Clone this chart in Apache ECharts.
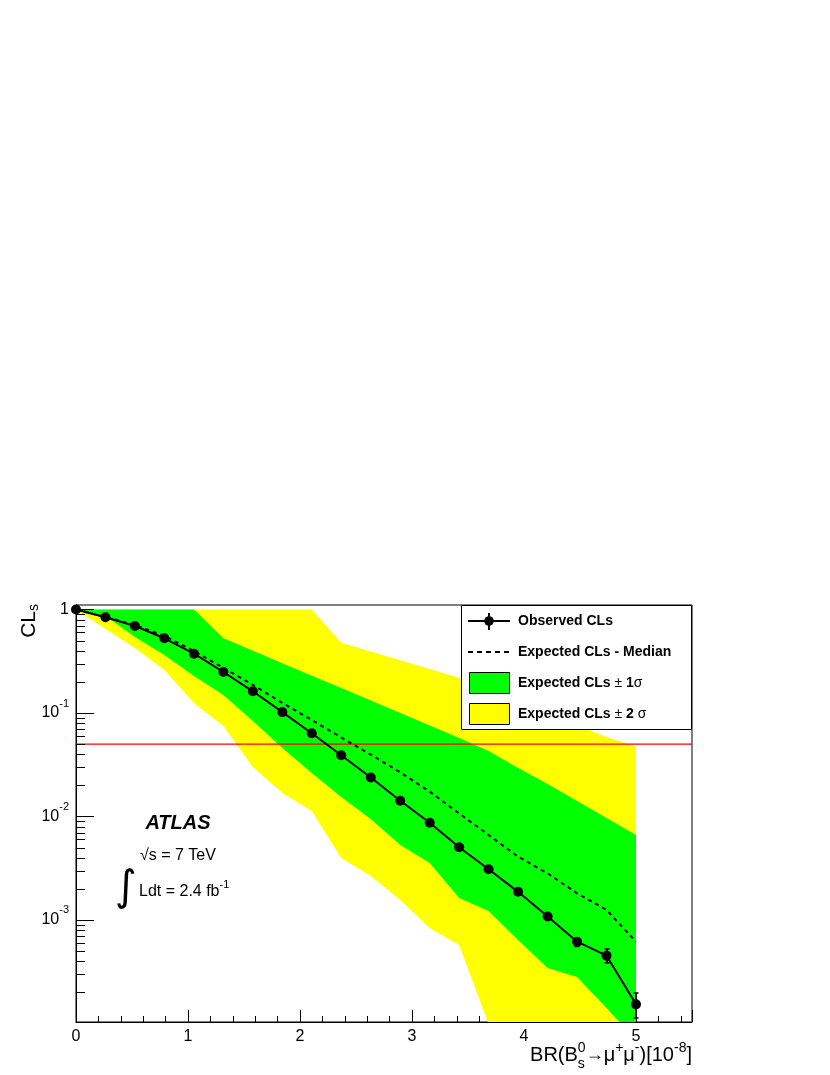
<!DOCTYPE html>
<html><head><meta charset="utf-8">
<script src="https://cdn.jsdelivr.net/npm/echarts@6/dist/echarts.min.js"></script>
<style>html,body{margin:0;padding:0;background:#fff}#c{width:830px;height:1075px}</style>
</head><body><div id="c"></div>
<script>
// ---- data ----
const xValues = [0, 0.263, 0.526, 0.789, 1.053, 1.316, 1.579, 1.842, 2.105, 2.368, 2.632, 2.895, 3.158, 3.421, 3.684, 3.947, 4.211, 4.474, 4.737, 5.0];
const observed = [1, 0.841, 0.693, 0.527, 0.374, 0.249, 0.162, 0.102, 0.0637, 0.039, 0.0238, 0.0142, 0.00871, 0.00504, 0.00309, 0.00187, 0.00108, 0.000617, 0.000452, 0.000153];
const obsErrDown = [0, 0, 0, 0, 0, 0, 0, 0, 0, 0, 0, 0, 0, 0, 0, 0, 0.00004, 0.000063, 0.000067, 0.00004];
const obsErrUp   = [0, 0, 0, 0, 0, 0, 0, 0, 0, 0, 0, 0, 0, 0, 0, 0, 0.00005, 0.000045, 0.000073, 0.000044];
const expectedMedian = [1, 0.846, 0.708, 0.555, 0.397, 0.272, 0.187, 0.125, 0.0856, 0.058, 0.0396, 0.0267, 0.0174, 0.0107, 0.00663, 0.00409, 0.00282, 0.00181, 0.00125, 0.000617];
const plus1Sigma  = [1, 1, 1, 1, 1, 0.527, 0.399, 0.303, 0.229, 0.174, 0.132, 0.0998, 0.0757, 0.0573, 0.043, 0.0294, 0.0206, 0.0141, 0.00968, 0.00663];
const minus1Sigma = [1, 0.865, 0.542, 0.363, 0.228, 0.149, 0.0837, 0.0459, 0.0263, 0.0154, 0.00946, 0.00531, 0.00356, 0.00163, 0.00122, 0.000641, 0.000344, 0.000281, 0.000141, 0.0000693];
const plus2Sigma  = [1, 1, 1, 1, 1, 1, 1, 1, 1, 0.478, 0.393, 0.323, 0.266, 0.218, 0.168, 0.129, 0.0991, 0.0762, 0.0586, 0.0472];
const minus2Sigma = [1, 0.648, 0.425, 0.26, 0.125, 0.0749, 0.0301, 0.0169, 0.0113, 0.00397, 0.00266, 0.00156, 0.000838, 0.000573, 0.0000989, 0.00001, 0.00001, 0.00001, 0.00001, 0.00001];
const clsLimit = 0.05;
const xTickLabels = ['0', '1', '2', '3', '4', '5'];
const yMajorTicks = [1, 0.1, 0.01, 0.001];
const yMinorMantissas = [2, 3, 4, 5, 6, 7, 8, 9];
const yMinorDecades = [0.0001, 0.001, 0.01, 0.1];

// ---- helpers ----
const FONT = '"Liberation Sans", Arial, Helvetica, sans-serif';
const mctx = document.createElement('canvas').getContext('2d');
function tw(t, f) { mctx.font = f; return mctx.measureText(t).width; }

const Y_MIN = 1.033e-4, Y_MAX = 1.105;
const yMinorTicks = [];
yMinorDecades.forEach(d => yMinorMantissas.forEach(m => { const v = m * d; if (v > Y_MIN && v < Y_MAX) yMinorTicks.push(v); }));

function bandSeries(upper, lower, color, z) {
  return {
    type: 'custom', z: z, clip: true, silent: true, animation: false,
    data: [[xValues[0], upper[0]]],
    renderItem: function (params, api) {
      const pts = [];
      for (let i = 0; i < xValues.length; i++) pts.push(api.coord([xValues[i], upper[i]]));
      for (let i = xValues.length - 1; i >= 0; i--) pts.push(api.coord([xValues[i], lower[i]]));
      return { type: 'polygon', shape: { points: pts }, style: { fill: color } };
    }
  };
}
function tickSeries(values, len) {
  return {
    type: 'custom', z: 6, silent: true, animation: false,
    data: values.map(v => [0, v]),
    renderItem: function (params, api) {
      const p = api.coord([0, api.value(1)]);
      const y = Math.round(p[1]) + 0.5;
      return { type: 'line', shape: { x1: p[0], y1: y, x2: p[0] + len, y2: y }, style: { stroke: '#000', lineWidth: 1 } };
    }
  };
}

// x-axis title built from pieces (right-aligned at plot edge)
function buildXTitle(rightX, cy) {
  const big = '20px ' + FONT, small = '14px ' + FONT;
  const pieces = [
    { t: 'BR(B', f: big, dy: 0 },
    { stack: [{ t: '0', f: small, dy: -7 }, { t: 's', f: small, dy: 9 }] },
    { t: '\u2192', f: '18px ' + FONT, dy: 0 },
    { t: '\u03bc', f: big, dy: 0 },
    { t: '+', f: small, dy: -7 },
    { t: '\u03bc', f: big, dy: 0 },
    { t: '-', f: small, dy: -7 },
    { t: ')[10', f: big, dy: 0 },
    { t: '-8', f: small, dy: -7 },
    { t: ']', f: big, dy: 0 }
  ];
  let total = 0;
  pieces.forEach(p => { p.w = p.stack ? Math.max(...p.stack.map(s => tw(s.t, s.f))) : tw(p.t, p.f); total += p.w; });
  let x = rightX - total;
  const els = [];
  pieces.forEach(p => {
    const list = p.stack ? p.stack : [p];
    list.forEach(s => els.push({ type: 'text', x: x, y: cy + s.dy, style: { text: s.t, font: s.f, fill: '#000', align: 'left', verticalAlign: 'middle', textAlign: 'left', textVerticalAlign: 'middle' } }));
    x += p.w;
  });
  return els;
}

const chart = echarts.init(document.getElementById('c'), null, { renderer: 'canvas' });

const legendFontB = 'bold 14px ' + FONT;
const legendFontR = '14px ' + FONT;
const legend = [
  { type: 'rect', shape: { x: 461.5, y: 605.5, width: 230, height: 124 }, style: { fill: '#fff', stroke: '#000', lineWidth: 1 } },
  { type: 'line', shape: { x1: 468, y1: 621, x2: 510, y2: 621 }, style: { stroke: '#000', lineWidth: 2 } },
  { type: 'line', shape: { x1: 489, y1: 613, x2: 489, y2: 630 }, style: { stroke: '#000', lineWidth: 2 } },
  { type: 'circle', shape: { cx: 489, cy: 621, r: 4.8 }, style: { fill: '#000' } },
  { type: 'text', x: 518, y: 621, style: { text: 'Observed CLs', font: legendFontB, fill: '#000', verticalAlign: 'middle', textVerticalAlign: 'middle' } },
  { type: 'line', shape: { x1: 468, y1: 652, x2: 510, y2: 652 }, style: { stroke: '#000', lineWidth: 2, lineDash: [5, 4] } },
  { type: 'text', x: 518, y: 652, style: { text: 'Expected CLs - Median', font: legendFontB, fill: '#000', verticalAlign: 'middle', textVerticalAlign: 'middle' } },
  { type: 'rect', shape: { x: 469.5, y: 672.5, width: 40, height: 21 }, style: { fill: '#00ff00', stroke: '#000', lineWidth: 1 } },
  { type: 'text', x: 518, y: 683, style: { text: '{b|Expected CLs }{r|\u00b1}{b| 1}{r|\u03c3}', fill: '#000', verticalAlign: 'middle', textVerticalAlign: 'middle', rich: { b: { font: legendFontB, fill: '#000' }, r: { font: legendFontR, fill: '#000' } } } },
  { type: 'rect', shape: { x: 469.5, y: 703.5, width: 40, height: 21 }, style: { fill: '#ffff00', stroke: '#000', lineWidth: 1 } },
  { type: 'text', x: 518, y: 714, style: { text: '{b|Expected CLs }{r|\u00b1}{b| 2 }{r|\u03c3}', fill: '#000', verticalAlign: 'middle', textVerticalAlign: 'middle', rich: { b: { font: legendFontB, fill: '#000' }, r: { font: legendFontR, fill: '#000' } } } }
];

const labels = [
  { type: 'text', x: 178, y: 823, style: { text: 'ATLAS', font: 'italic bold 20px ' + FONT, fill: '#000', align: 'center', textAlign: 'center', verticalAlign: 'middle', textVerticalAlign: 'middle' } },
  { type: 'text', x: 140, y: 856, style: { text: '\u221as = 7 TeV', font: '16px ' + FONT, fill: '#000', verticalAlign: 'middle', textVerticalAlign: 'middle' } },
  { type: 'text', x: 126, y: 889, style: { text: '\u222b', font: '42px "DejaVu Sans", sans-serif', fill: '#000', align: 'center', textAlign: 'center', verticalAlign: 'middle', textVerticalAlign: 'middle' } },
  { type: 'text', x: 139, y: 892, style: { text: '{n|Ldt = 2.4 fb}{s|-1}', fill: '#000', verticalAlign: 'middle', textVerticalAlign: 'middle', rich: { n: { font: '16px ' + FONT, lineHeight: 26, fill: '#000' }, s: { font: '11px ' + FONT, lineHeight: 12, verticalAlign: 'top', fill: '#000' } } } },
  { type: 'text', x: 29, y: 604, rotation: Math.PI / 2, style: { text: '{a|CL}{b|s}', align: 'right', textAlign: 'right', verticalAlign: 'middle', textVerticalAlign: 'middle', rich: { a: { font: '21px ' + FONT, lineHeight: 24, fill: '#000' }, b: { font: '14px ' + FONT, lineHeight: 13, verticalAlign: 'bottom', fill: '#000' } } } }
].concat(buildXTitle(692, 1055));

const option = {
  animation: false,
  backgroundColor: '#fff',
  grid: { left: 76, right: 138, top: 605, bottom: 53, show: true, borderColor: '#000', borderWidth: 1, backgroundColor: 'transparent', containLabel: false, outerBoundsMode: 'none' },
  xAxis: {
    type: 'value', min: 0, max: 5.5, interval: 1,
    axisLine: { show: true, onZero: false, lineStyle: { color: '#000', width: 1 } },
    axisTick: { show: true, inside: true, length: 12, lineStyle: { color: '#000', width: 1 } },
    minorTick: { show: true, splitNumber: 5, length: 6, lineStyle: { color: '#000', width: 1 } },
    splitLine: { show: false },
    axisLabel: { color: '#000', fontSize: 16, fontFamily: FONT, margin: 7,
      formatter: v => (Math.abs(v - Math.round(v)) < 1e-9 && v >= 0 && v <= 5) ? xTickLabels[Math.round(v)] : '' }
  },
  yAxis: {
    type: 'log', logBase: 10, min: Y_MIN, max: Y_MAX,
    axisLine: { show: true, lineStyle: { color: '#000', width: 1 } },
    axisTick: { show: false }, minorTick: { show: false }, splitLine: { show: false },
    axisLabel: {
      color: '#000', margin: 7, fontFamily: FONT,
      formatter: function (v) {
        const e = Math.round(Math.log10(v));
        const p = Math.pow(10, e);
        if (Math.abs(v - p) / p > 1e-6) return '';
        if (yMajorTicks.indexOf(Number(p.toPrecision(3))) < 0) return '';
        if (e === 0) return '{b|1}';
        return '{b|10}{s|' + e + '}';
      },
      rich: {
        b: { fontSize: 16, fontFamily: FONT, color: '#000', lineHeight: 30 },
        s: { fontSize: 11, fontFamily: FONT, color: '#000', lineHeight: 12, verticalAlign: 'top' }
      }
    }
  },
  graphic: { elements: labels.concat(legend).map(e => Object.assign({ z: 100 }, e)) },
  series: [
    bandSeries(plus2Sigma, minus2Sigma, '#ffff00', 1),
    bandSeries(plus1Sigma, minus1Sigma, '#00ff00', 2),
    tickSeries(yMajorTicks, 18),
    tickSeries(yMinorTicks, 9),
    { type: 'line', z: 3, silent: true, symbol: 'none', clip: true,
      data: [[0, clsLimit], [5.5, clsLimit]], lineStyle: { color: '#ff0000', width: 1.3 } },
    { type: 'line', z: 4, silent: true, symbol: 'none', clip: true,
      data: xValues.map((x, i) => [x, expectedMedian[i]]), lineStyle: { color: '#000', width: 2, type: [4, 4] } },
    { type: 'line', z: 5, silent: true, symbol: 'circle', symbolSize: 10, clip: false,
      data: xValues.map((x, i) => [x, observed[i]]),
      itemStyle: { color: '#000' }, lineStyle: { color: '#000', width: 2 } },
    { type: 'custom', z: 5, silent: true, clip: false,
      data: xValues.map((x, i) => [x, observed[i] - obsErrDown[i], observed[i] + obsErrUp[i]]).filter((d, i) => obsErrDown[i] > 0),
      renderItem: function (params, api) {
        const lo = api.coord([api.value(0), api.value(1)]);
        const hi = api.coord([api.value(0), api.value(2)]);
        const x = Math.round(lo[0]);
        return { type: 'group', children: [
          { type: 'line', shape: { x1: x, y1: lo[1], x2: x, y2: hi[1] }, style: { stroke: '#000', lineWidth: 2 } },
          { type: 'line', shape: { x1: x - 2.5, y1: lo[1], x2: x + 2.5, y2: lo[1] }, style: { stroke: '#000', lineWidth: 1.5 } },
          { type: 'line', shape: { x1: x - 2.5, y1: hi[1], x2: x + 2.5, y2: hi[1] }, style: { stroke: '#000', lineWidth: 1.5 } }
        ] };
      }
    }
  ]
};
chart.setOption(option);
</script>
</body></html>
